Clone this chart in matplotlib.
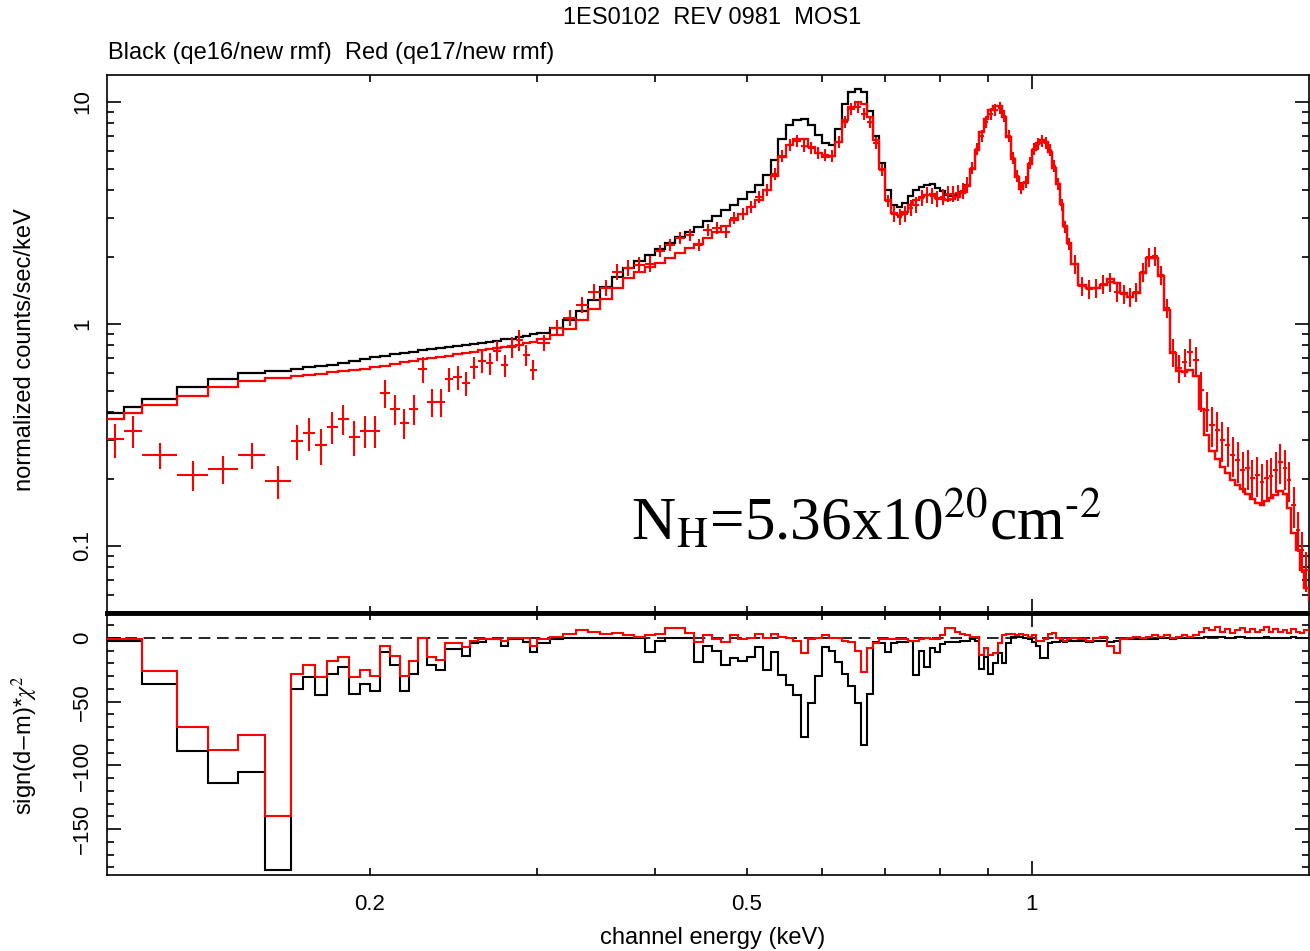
import numpy as np
import matplotlib
matplotlib.use('Agg')
import matplotlib.pyplot as plt
from matplotlib.ticker import (FixedLocator, FuncFormatter, LogLocator,
                               MultipleLocator, NullFormatter)

plt.rcParams['font.family'] = ['Liberation Sans', 'DejaVu Sans']
plt.rcParams['mathtext.fontset'] = 'stix'

# channel grouping in keV: wide groups below 0.165, single 5 eV channels
# up to 0.3, then 10 eV and 20 eV groups
low_edges = [0.105, 0.110, 0.115, 0.125, 0.135, 0.145, 0.155]
edges = np.concatenate([low_edges,
                        np.arange(165, 300, 5) / 1000.0,
                        np.arange(300, 1100, 10) / 1000.0,
                        np.arange(1100, 1981, 20) / 1000.0])
centers = 0.5 * (edges[:-1] + edges[1:])
half = 0.5 * np.diff(edges)

# model, qe16 response (counts/s/keV)
model_qe16 = [
    0.399, 0.423, 0.460, 0.520, 0.565, 0.602, 0.614,
    0.630, 0.637, 0.647, 0.654, 0.667, 0.681, 0.696, 0.710, 0.718, 0.733,
    0.740, 0.748, 0.764, 0.772, 0.780, 0.788, 0.796, 0.804, 0.813, 0.821,
    0.830, 0.838, 0.852, 0.860, 0.874, 0.883, 0.897,
    0.915, 0.962, 1.040, 1.144, 1.289, 1.462, 1.635, 1.785, 1.912, 2.037,
    2.166, 2.309, 2.465, 2.599, 2.741, 2.907, 3.078, 3.245, 3.440, 3.657,
    3.919, 4.242, 4.710, 5.503, 6.779, 7.862, 8.297, 8.341, 7.879, 7.101,
    6.503, 6.402, 7.555, 9.795, 11.09, 11.44, 11.04, 9.110, 7.027, 5.313,
    4.014, 3.436, 3.365, 3.508, 3.772, 3.994, 4.142, 4.228, 4.250, 4.099,
    3.952, 3.812, 3.772, 3.812, 3.932, 4.228, 4.991, 6.078, 7.326, 8.383,
    9.204, 9.594, 9.594, 8.559, 6.955, 5.537, 4.594, 4.056, 4.317, 5.258,
    6.078, 6.536, 6.743, 6.604, 5.954, 5.043, 4.272, 3.472, 2.764, 2.317,
    1.863, 1.498, 1.453, 1.453, 1.498, 1.595, 1.530, 1.379, 1.323, 1.379,
    1.697, 1.983, 1.983, 1.645, 1.157, 0.740, 0.614, 0.608, 0.621, 0.583,
    0.414, 0.316, 0.268, 0.247, 0.227, 0.213, 0.198, 0.188, 0.181, 0.172,
    0.163, 0.156, 0.153, 0.160, 0.165, 0.170, 0.177, 0.172, 0.148, 0.114,
    0.096, 0.078, 0.065, 0.057,
]

# model, qe17 response
model_qe17 = [
    0.373, 0.397, 0.432, 0.474, 0.520, 0.554, 0.571,
    0.586, 0.592, 0.598, 0.605, 0.611, 0.621, 0.630, 0.640, 0.650, 0.661,
    0.671, 0.681, 0.692, 0.703, 0.710, 0.721, 0.729, 0.740, 0.748, 0.760,
    0.768, 0.776, 0.784, 0.792, 0.804, 0.817, 0.830,
    0.856, 0.895, 0.953, 1.041, 1.165, 1.301, 1.451, 1.606, 1.715, 1.808,
    1.883, 1.979, 2.088, 2.188, 2.297, 2.437, 2.594, 2.764, 2.944, 3.129,
    3.355, 3.630, 4.010, 4.637, 5.654, 6.422, 6.779, 6.813, 6.271, 5.892,
    5.623, 5.711, 6.604, 8.254, 9.495, 10.00, 9.743, 8.559, 6.709, 4.991,
    3.619, 3.162, 3.097, 3.195, 3.418, 3.600, 3.733, 3.812, 3.831, 3.694,
    3.657, 3.619, 3.638, 3.733, 3.871, 4.185, 4.991, 6.078, 7.326, 8.383,
    9.204, 9.594, 9.594, 8.559, 6.955, 5.537, 4.594, 4.056, 4.317, 5.258,
    6.078, 6.536, 6.743, 6.604, 5.954, 5.043, 4.272, 3.472, 2.764, 2.317,
    1.863, 1.498, 1.453, 1.453, 1.498, 1.595, 1.530, 1.379, 1.323, 1.379,
    1.697, 1.983, 1.983, 1.645, 1.157, 0.740, 0.614, 0.608, 0.621, 0.583,
    0.414, 0.316, 0.268, 0.247, 0.227, 0.213, 0.198, 0.188, 0.181, 0.172,
    0.163, 0.156, 0.153, 0.160, 0.165, 0.170, 0.177, 0.172, 0.148, 0.114,
    0.096, 0.078, 0.065, 0.057,
]

# observed rate and 1-sigma error
rate = [
    0.303, 0.330, 0.257, 0.209, 0.222, 0.257, 0.196,
    0.297, 0.323, 0.285, 0.344, 0.373, 0.310, 0.330, 0.330, 0.489, 0.414,
    0.358, 0.414, 0.627, 0.445, 0.445, 0.565, 0.577, 0.542, 0.640, 0.681,
    0.667, 0.756, 0.653, 0.788, 0.847, 0.725, 0.621,
    0.821, 0.959, 1.064, 1.218, 1.394, 1.453, 1.715, 1.787, 1.844, 1.863,
    2.132, 2.269, 2.440, 2.517, 2.269, 2.651, 2.706, 2.597, 3.002, 3.129,
    3.365, 3.733, 4.014, 4.739, 5.711, 6.402, 6.674, 6.336, 6.206, 5.892,
    5.771, 5.711, 6.604, 8.127, 9.300, 9.495, 8.830, 8.127, 6.536, 4.940,
    3.582, 3.129, 3.034, 3.129, 3.331, 3.436, 3.694, 3.812, 3.772, 3.657,
    3.733, 3.851, 3.851, 3.891, 3.973, 4.228, 5.043, 6.141, 7.027, 8.127,
    8.830, 9.204, 9.397, 8.648, 7.027, 5.595, 4.642, 4.099, 4.362, 5.313,
    6.141, 6.470, 6.674, 6.536, 6.078, 5.149, 4.272, 3.436, 2.735, 2.293,
    1.863, 1.483, 1.438, 1.453, 1.514, 1.546, 1.394, 1.365, 1.323, 1.394,
    1.715, 2.004, 2.025, 1.662, 1.181, 0.748, 0.634, 0.674, 0.748, 0.688,
    0.504, 0.410, 0.351, 0.333, 0.300, 0.285, 0.257, 0.244, 0.220, 0.2245,
    0.2025, 0.2088, 0.1942, 0.2025, 0.2066, 0.220, 0.239, 0.2245, 0.1983, 0.153,
    0.118, 0.0959, 0.0780, 0.0633,
]
rate_err = [
    0.053, 0.055, 0.035, 0.033, 0.032, 0.035, 0.033,
    0.052, 0.054, 0.053, 0.057, 0.058, 0.055, 0.055, 0.055, 0.071, 0.064,
    0.056, 0.064, 0.085, 0.065, 0.065, 0.070, 0.072, 0.067, 0.073, 0.078,
    0.076, 0.078, 0.074, 0.082, 0.088, 0.075, 0.064,
    0.068, 0.080, 0.088, 0.101, 0.116, 0.121, 0.142, 0.148, 0.153, 0.155,
    0.132, 0.141, 0.151, 0.156, 0.141, 0.164, 0.168, 0.161, 0.186, 0.194,
    0.209, 0.231, 0.249, 0.294, 0.354, 0.397, 0.414, 0.393, 0.385, 0.365,
    0.358, 0.354, 0.409, 0.504, 0.577, 0.589, 0.547, 0.504, 0.405, 0.306,
    0.222, 0.260, 0.252, 0.260, 0.276, 0.285, 0.307, 0.316, 0.313, 0.304,
    0.310, 0.320, 0.320, 0.323, 0.330, 0.351, 0.313, 0.381, 0.436, 0.504,
    0.547, 0.571, 0.583, 0.536, 0.436, 0.347, 0.288, 0.254, 0.270, 0.329,
    0.381, 0.401, 0.414, 0.405, 0.377, 0.319, 0.265, 0.213, 0.170, 0.142,
    0.186, 0.148, 0.144, 0.145, 0.151, 0.155, 0.139, 0.137, 0.132, 0.139,
    0.172, 0.200, 0.203, 0.166, 0.118, 0.108, 0.092, 0.098, 0.108, 0.100,
    0.104, 0.085, 0.073, 0.069, 0.062, 0.059, 0.053, 0.051, 0.046, 0.046,
    0.042, 0.043, 0.040, 0.042, 0.043, 0.046, 0.049, 0.046, 0.041, 0.032,
    0.024, 0.020, 0.016, 0.013,
]

# sign(d-m)*chi^2 against each model
chi_qe16 = [
    -2, -2, -36, -89, -114, -105, -182,
    -40, -31, -45, -28, -23, -44, -36, -42, -11, -21,
    -42, -28, 0, -21, -25, -9, -9, -14, -4, -3,
    -1, -1, -6, -1, -1, -3, -11,
    -4, -1, 0, 0, 0, 0, 0, 0, 0, -11,
    -2, 0, 0, 0, -19, -6, -10, -21, -16, -18,
    -15, -7, -25, -11, -29, -37, -45, -78, -51, -30,
    -7, -10, -19, -28, -38, -51, -84, -44, -3, -4,
    -11, -4, -3, -3, -2, -29, -10, -23, -8, -11,
    -5, -3, -3, -3, -2, -2, -1, -2, -24, -15,
    -28, -20, -12, -20, -4, 1, 1, 1, 0, -1,
    -3, -6, -16, -16, -4, -3, -3, -2, -3, -2,
    -2, -2, -3, -2, -2, -3, -2, -1, -1, -1,
    -1, -1, -1, 0, 0, -1, 0, 0, 0, 0,
    0, 1, 1, 1, 1, 0, 0, 1, 1, 0,
    0, 0, 0, 1, 0, 0, 0, 0, 0, 1,
    0, 0, 0, 0,
]
chi_qe17 = [
    -1, -1, -26, -70, -88, -76, -140,
    -28, -21, -31, -18, -15, -31, -25, -30, -6, -14,
    -30, -18, 0, -15, -17, -4, -4, -7, -2, -1,
    -1, -1, -2, 0, 0, 0, -6,
    -1, 1, 3, 6.6, 5, 3, 4, 2, 1, 2.5,
    3, 7.5, 8, 4, -3, 2.5, -0.5, -3, 2, -0.5,
    0, 3, 0, 3, 1, 0, -2, -12, -1, 0,
    2, 0, 0, -2, -3, -10, -27, -8, -4, -1,
    -1, -1, -1, -1, -2, -2, -1, 0, -1, -1,
    2, 8, 8, 5, 3, 2, 1, 1, -13, -8,
    -13, -12, -4, 2, 3, 3, 2, 3, 2, 1,
    2, -2, -2, -1, 3, 4, 0, -1, -2, -1,
    0, -1, -2, 0, 1, -6, -12, -1, 0, 1,
    0, 1, 2, 1, 2, 0, 1, 2, 1, 2,
    5, 8, 6, 9, 5, 7, 4, 6, 8, 5,
    7, 5, 6, 9, 5, 7, 5, 6, 4, 7,
    5, 4, 6, 5,
]

W, H = 1310.0, 951.0
fig = plt.figure(figsize=(W / 100, H / 100), dpi=100)
ax1 = fig.add_axes([107 / W, 1 - 613 / H, 1201.5 / W, 538 / H])
ax2 = fig.add_axes([107 / W, 1 - 875 / H, 1201.5 / W, 262 / H])

# spectrum panel
ax1.stairs(model_qe16, edges, baseline=None, color='black', lw=1.6, zorder=2)
ax1.errorbar(centers, rate, xerr=half, yerr=rate_err, fmt='none',
             ecolor='red', elinewidth=1.5, capsize=0, zorder=3)
ax1.stairs(model_qe17, edges, baseline=None, color='red', lw=1.6, zorder=4)
ax1.set_yscale('log')
ax1.set_ylim(0.0499, 13.23)

# residual panel
ax2.axhline(0, color='black', lw=1.2, ls=(0, (7, 4)), zorder=1)
ax2.stairs(chi_qe16, edges, baseline=None, color='black', lw=1.5, zorder=2)
ax2.stairs(chi_qe17, edges, baseline=None, color='red', lw=1.5, zorder=3)
ax2.set_ylim(-186, 19.6)

minor_x = [0.2, 0.3, 0.4, 0.5, 0.6, 0.7, 0.8, 0.9]
for ax in (ax1, ax2):
    ax.set_xscale('log')
    ax.set_xlim(0.1055, 1.96)
    ax.xaxis.set_major_locator(FixedLocator([1.0]))
    ax.xaxis.set_minor_locator(FixedLocator(minor_x))
    ax.tick_params(which='both', direction='in', top=True, right=True,
                   width=1.2, labelsize=16)
    ax.tick_params(which='major', length=10)
    ax.tick_params(which='minor', length=5)
    for s in ax.spines.values():
        s.set_linewidth(1.2)

ax1.xaxis.set_major_formatter(NullFormatter())
ax1.xaxis.set_minor_formatter(NullFormatter())
ax2.xaxis.set_major_formatter(FuncFormatter(lambda v, p: '1'))
ax2.xaxis.set_minor_formatter(FuncFormatter(
    lambda v, p: {0.2: '0.2', 0.5: '0.5'}.get(round(v, 1), '')))
ax2.tick_params(axis='x', which='both', pad=14)

ax1.spines['bottom'].set_linewidth(3.5)
ax2.spines['top'].set_linewidth(3.5)

ax1.set_yticks([0.1, 1, 10], ['0.1', '1', '10'], rotation=90, va='center')
ax1.yaxis.set_minor_locator(LogLocator(base=10, subs=np.arange(2, 10)))
ax1.yaxis.set_minor_formatter(NullFormatter())
ax2.set_yticks([-150, -100, -50, 0], ['\u2212150', '\u2212100', '\u221250', '0'],
               rotation=90, va='center')
ax2.yaxis.set_minor_locator(MultipleLocator(10))
for ax in (ax1, ax2):
    ax.tick_params(axis='y', which='both', pad=10)

ax1.text(0.4364, 0.1357,
         'N$_\\mathrm{H}$=5.36x10$^\\mathrm{20}$cm$^\\mathrm{\u20102}$',
         transform=ax1.transAxes, fontsize=44, family='Liberation Serif',
         ha='left', va='baseline')

fig.text(712 / W, 1 - 18 / H, '1ES0102  REV 0981  MOS1',
         ha='center', va='center', fontsize=17)
fig.text(108 / W, 1 - 53 / H, 'Black (qe16/new rmf)  Red (qe17/new rmf)',
         ha='left', va='center', fontsize=17)
fig.text(713 / W, 1 - 938 / H, 'channel energy (keV)',
         ha='center', va='center', fontsize=17)
fig.text(25 / W, 1 - 350 / H, 'normalized counts/sec/keV', rotation=90,
         ha='center', va='center', fontsize=17)
fig.text(25 / W, 1 - 745 / H, r'sign(d$-$m)*$\chi^2$', rotation=90,
         ha='center', va='center', fontsize=17)

fig.savefig('out.png', dpi=100)
